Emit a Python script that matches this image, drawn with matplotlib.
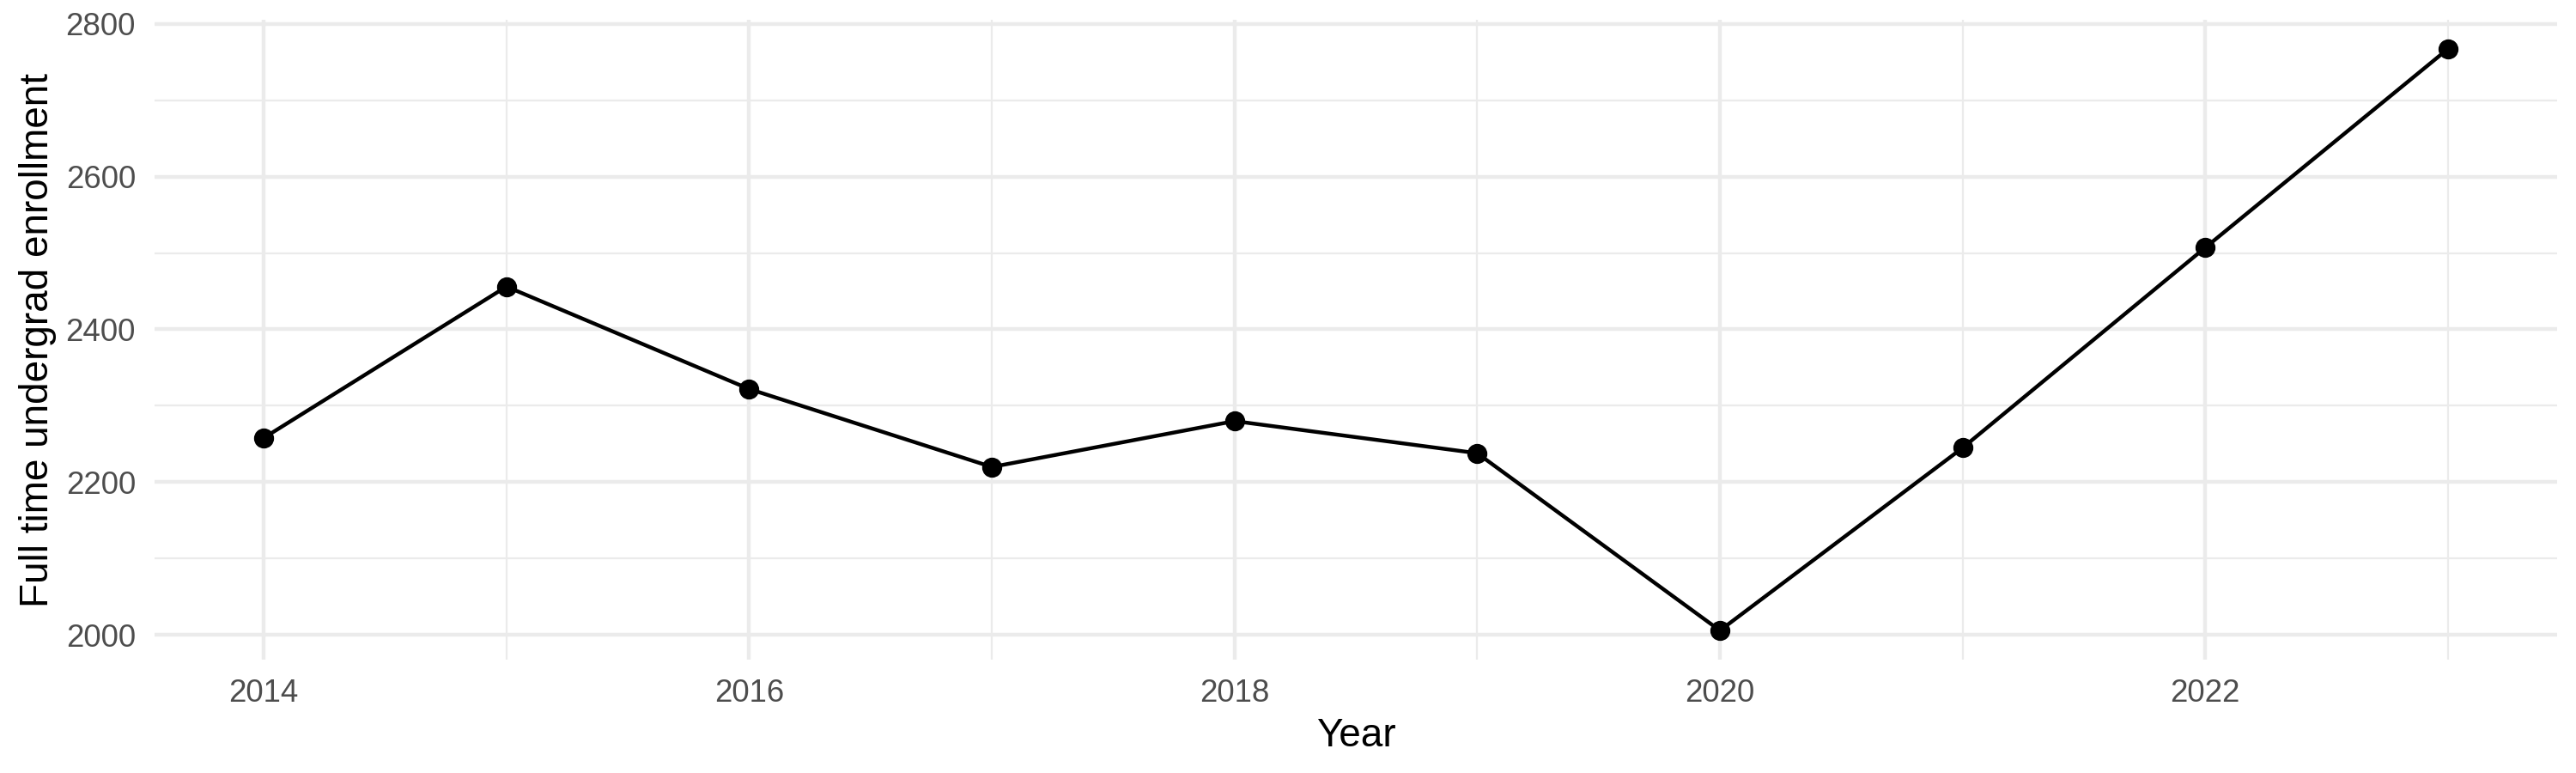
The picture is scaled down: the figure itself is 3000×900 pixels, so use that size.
import matplotlib
matplotlib.use("Agg")
import matplotlib.pyplot as plt
from matplotlib.ticker import MultipleLocator

years = [2014, 2015, 2016, 2017, 2018, 2019, 2020, 2021, 2022, 2023]
enrollment = [2258, 2456, 2322, 2220, 2280, 2238, 2006, 2245, 2507, 2767]
x_ticks = [2014, 2016, 2018, 2020, 2022]
y_ticks = [2000, 2200, 2400, 2600, 2800]

plt.rcParams['font.family'] = ['Liberation Sans', 'DejaVu Sans']

fig = plt.figure(figsize=(10, 3), dpi=300)
ax = fig.add_axes([0.06, 0.1467, 0.9327, 0.8277])

ax.plot(years, enrollment, color='black', lw=1.07, zorder=3)
ax.plot(years, enrollment, 'o', color='black', markersize=4.6, zorder=4)

span = max(enrollment) - min(enrollment)
ax.set_ylim(min(enrollment) - 0.05 * span, max(enrollment) + 0.05 * span)
xspan = years[-1] - years[0]
ax.set_xlim(years[0] - 0.05 * xspan, years[-1] + 0.05 * xspan)

ax.set_xticks(x_ticks)
ax.set_yticks(y_ticks)
ax.xaxis.set_minor_locator(MultipleLocator(1))
ax.yaxis.set_minor_locator(MultipleLocator(100))
ax.grid(which='major', color='#EBEBEB', lw=1.07, zorder=0)
ax.grid(which='minor', color='#EBEBEB', lw=0.53, zorder=0)
ax.set_axisbelow(True)
for s in ax.spines.values():
    s.set_visible(False)
ax.tick_params(which='both', length=0)
ax.tick_params(axis='both', labelsize=8.8, labelcolor='#4D4D4D', pad=5.3)

ax.set_xlabel('Year', fontsize=11, color='black', labelpad=2.5)
ax.set_ylabel('Full time undergrad enrollment', fontsize=11, color='black', labelpad=2.5)

fig.savefig('out.png', dpi=300, facecolor='white')
